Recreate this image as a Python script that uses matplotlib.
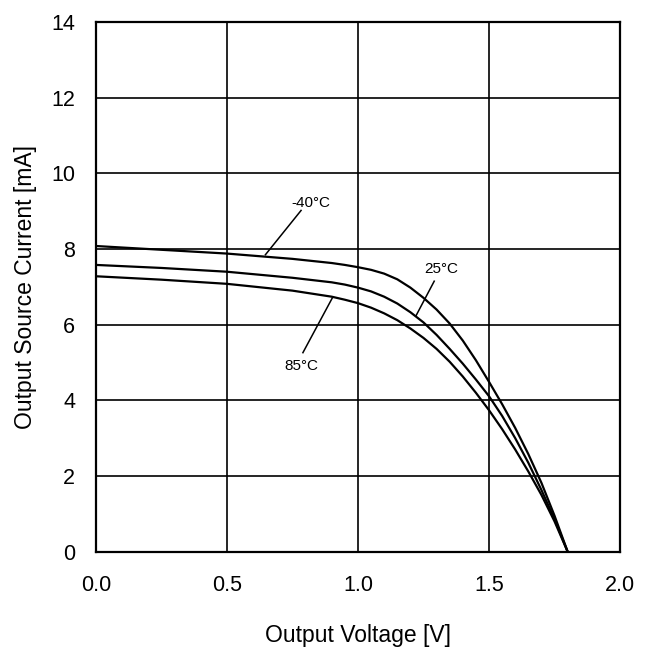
import matplotlib
matplotlib.use("Agg")
import matplotlib.pyplot as plt

matplotlib.rcParams['font.family'] = ['Liberation Sans', 'DejaVu Sans']

# 输出电压 [V] 与各温度下的输出源电流 [mA]
v_m40 = [0.0, 0.25, 0.5, 0.75, 0.9, 0.95, 1.0, 1.05, 1.1, 1.15, 1.2, 1.25, 1.3, 1.35,
         1.4, 1.45, 1.5, 1.55, 1.6, 1.65, 1.7, 1.75, 1.8]
i_m40 = [8.08, 7.98, 7.88, 7.74, 7.63, 7.58, 7.52, 7.45, 7.35, 7.20, 6.98, 6.71, 6.40, 6.03,
         5.58, 5.06, 4.49, 3.90, 3.27, 2.58, 1.82, 0.95, 0.0]

v_25 = [0.0, 0.25, 0.5, 0.75, 0.9, 0.95, 1.0, 1.05, 1.1, 1.15, 1.2, 1.25, 1.3, 1.35,
        1.4, 1.45, 1.5, 1.55, 1.6, 1.65, 1.7, 1.75, 1.8]
i_25 = [7.58, 7.50, 7.40, 7.24, 7.12, 7.06, 6.98, 6.88, 6.74, 6.56, 6.33, 6.06, 5.73, 5.36,
        4.97, 4.55, 4.11, 3.59, 3.00, 2.35, 1.63, 0.86, 0.0]

v_85 = [0.0, 0.25, 0.5, 0.75, 0.9, 0.95, 1.0, 1.05, 1.1, 1.15, 1.2, 1.25, 1.3, 1.35,
        1.4, 1.45, 1.5, 1.55, 1.6, 1.65, 1.7, 1.75, 1.8]
i_85 = [7.28, 7.19, 7.08, 6.90, 6.74, 6.66, 6.57, 6.45, 6.30, 6.12, 5.90, 5.65, 5.36, 5.02,
        4.63, 4.20, 3.74, 3.24, 2.70, 2.12, 1.50, 0.80, 0.0]

x_ticks = [0.0, 0.5, 1.0, 1.5, 2.0]
y_ticks = [0, 2, 4, 6, 8, 10, 12, 14]

# 标注: (文字, 文字位置, 引线起点, 引线终点)
labels = [
    ("-40°C", (0.821, 9.21), (0.783, 9.02), (0.647, 7.85)),
    ("25°C", (1.316, 7.47), (1.291, 7.15), (1.221, 6.23)),
    ("85°C", (0.785, 4.91), (0.790, 5.26), (0.904, 6.73)),
]

fig = plt.figure(figsize=(6.52, 6.49), dpi=100)
ax = fig.add_axes([0.147, 0.150, 0.804, 0.816])

for v, i in [(v_m40, i_m40), (v_25, i_25), (v_85, i_85)]:
    ax.plot(v, i, color='black', linewidth=1.6, zorder=3)

for text, pos, p0, p1 in labels:
    ax.plot([p0[0], p1[0]], [p0[1], p1[1]], color='black', linewidth=1.1, zorder=3)
    ax.text(pos[0], pos[1], text, fontsize=11, ha='center', va='center')

ax.set_xlim(0, 2)
ax.set_ylim(0, 14)
ax.set_xticks(x_ticks)
ax.set_xticklabels([f"{t:.1f}" for t in x_ticks])
ax.set_yticks(y_ticks)
ax.grid(True, color='black', linewidth=1.2)
ax.tick_params(length=0, labelsize=15.5)
ax.tick_params(axis='x', pad=17)
ax.tick_params(axis='y', pad=15)
for s in ax.spines.values():
    s.set_linewidth(1.6)

ax.set_xlabel("Output Voltage [V]", fontsize=16.5, labelpad=20)
ax.set_ylabel("Output Source Current [mA]", fontsize=16.5, labelpad=10)

fig.savefig("out.png", dpi=100)
